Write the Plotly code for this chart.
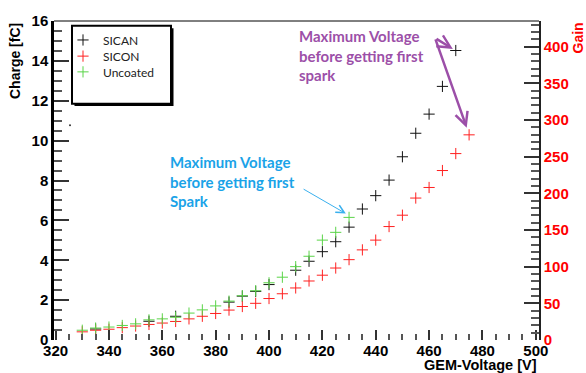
import plotly.graph_objects as go

# ---- data ----
sican_v = [335, 355, 365, 385, 390, 395, 400, 410, 415, 420, 425, 430, 435, 440,
           445, 450, 455, 460, 465, 470]
sican_q = [0.55, 0.94, 1.19, 1.90, 2.20, 2.44, 2.78, 3.50, 3.95, 4.43, 4.93, 5.66,
           6.57, 7.24, 8.02, 9.19, 10.37, 11.33, 12.72, 14.52]

sicon_v = [330, 335, 340, 345, 350, 355, 360, 365, 370, 375, 380, 385, 390, 395,
           400, 405, 410, 415, 420, 425, 430, 435, 440, 445, 450, 455, 460, 465,
           470, 475]
sicon_q = [0.41, 0.49, 0.54, 0.62, 0.70, 0.78, 0.85, 0.93, 1.06, 1.19, 1.33, 1.50,
           1.68, 1.84, 2.08, 2.32, 2.61, 2.96, 3.25, 3.61, 4.03, 4.52, 5.01, 5.69,
           6.26, 7.12, 7.65, 8.50, 9.35, 10.29]

unc_v = [330, 335, 340, 345, 350, 355, 360, 365, 370, 375, 380, 385, 390, 395,
         400, 405, 410, 415, 420, 425, 430]
unc_q = [0.49, 0.60, 0.65, 0.73, 0.81, 1.01, 1.06, 1.14, 1.35, 1.51, 1.71, 1.95,
         2.22, 2.47, 2.87, 3.15, 3.68, 4.20, 5.01, 5.40, 6.15]

stray_v = [325.4]
stray_q = [10.77]

x_ticks = [320, 340, 360, 380, 400, 420, 440, 460, 480, 500]
q_ticks = [0, 2, 4, 6, 8, 10, 12, 14, 16]
gain_ticks = [0, 50, 100, 150, 200, 250, 300, 350, 400]

# ---- figure ----
W, H = 586, 373
ML, MR, MT, MB = 54, 47, 12, 33
PW, PH = W - ML - MR, H - MT - MB


def px(x):
    return (x - ML) / PW


def py(y):
    return (H - MB - y) / PH


TICKFONT = dict(family="Liberation Sans, Arial", size=15, color="black", weight="bold")

fig = go.Figure()


def add_series(v, q, name, color, legend):
    fig.add_trace(go.Scatter(
        x=v, y=q, mode="markers", name=name, legend=legend,
        marker=dict(symbol="cross-thin", size=8, color=color,
                    line=dict(width=1, color=color)),
    ))


add_series(sican_v, sican_q, "SICAN", "#111111", "legend")
add_series(sicon_v, sicon_q, "SICON", "#ff2020", "legend2")
add_series(unc_v, unc_q, "Uncoated", "#5ad448", "legend3")

fig.add_trace(go.Scatter(x=stray_v, y=stray_q, mode="markers", showlegend=False,
                         marker=dict(symbol="circle", size=2, color="#333333")))
fig.add_trace(go.Scatter(x=[], y=[], yaxis="y2", showlegend=False, hoverinfo="skip"))

# legend box (ROOT style with shadow)
shapes = [
    dict(type="rect", xref="paper", yref="paper",
         x0=px(74.5), x1=px(173.5), y0=py(99.5), y1=py(19.5),
         fillcolor="black", line=dict(width=0), layer="above"),
    dict(type="rect", xref="paper", yref="paper",
         x0=px(72), x1=px(171), y0=py(97), y1=py(17),
         fillcolor="white", line=dict(width=2, color="black"), layer="above"),
    # top frame line
    dict(type="line", xref="paper", yref="paper", x0=0, x1=1, y0=1, y1=1,
         line=dict(width=1, color="black")),
]

TFONT = dict(family="Liberation Sans, Arial", size=14, color="black", weight="bold")

annotations = [
    # axis titles
    dict(text="Charge [fC]", xref="paper", yref="paper", x=px(15), y=py(12),
         xanchor="center", yanchor="top", textangle=-90, showarrow=False, font=TFONT),
    dict(text="Gain", xref="paper", yref="paper", x=px(577), y=py(12),
         xanchor="center", yanchor="top", textangle=-90, showarrow=False,
         font=dict(TFONT, color="#ff0000")),
    dict(text="GEM-Voltage [V]", xref="paper", yref="paper", x=px(539), y=py(366),
         xanchor="right", yanchor="middle", showarrow=False,
         font=dict(TFONT, size=14.5)),
    # blue note
    dict(text="Maximum Voltage<br>before getting first<br>Spark", xref="x", yref="y",
         x=362.2, y=9.49, xanchor="left", yanchor="top", align="left", showarrow=False,
         font=dict(family="Lato", size=15, color="#1aa3e8", weight="bold")),
    dict(text="", xref="x", yref="y", x=428.8, y=6.34, axref="x", ayref="y",
         ax=412.4, ay=7.61, showarrow=True, arrowhead=5, arrowsize=1.6,
         arrowwidth=1, arrowcolor="#3ab0ee", standoff=0, startstandoff=0),
    # purple note
    dict(text="Maximum Voltage<br>before getting first<br>spark", xref="x", yref="y",
         x=410.5, y=15.8, xanchor="left", yanchor="top", align="left", showarrow=False,
         font=dict(family="Lato", size=15, color="#9c4fa8", weight="bold")),
    dict(text="", xref="x", yref="y", x=468.9, y=14.6, axref="x", ayref="y",
         ax=462.2, ay=15.15, showarrow=True, arrowhead=5, arrowsize=1,
         arrowwidth=2.5, arrowcolor="#9c4fa8", standoff=0, startstandoff=0),
    dict(text="", xref="x", yref="y", x=474.1, y=10.65, axref="x", ayref="y",
         ax=462.2, ay=15.15, showarrow=True, arrowhead=5, arrowsize=1,
         arrowwidth=2.5, arrowcolor="#9c4fa8", standoff=0, startstandoff=0),
]

LEGFONT = dict(family="Lato", size=12, color="#222222")


def leg(ycenter):
    return dict(x=px(63), y=py(ycenter), xanchor="left", yanchor="middle",
                bgcolor="rgba(0,0,0,0)", borderwidth=0, font=LEGFONT, itemwidth=30)


fig.update_layout(
    width=W, height=H,
    margin=dict(l=ML, r=MR, t=MT, b=MB, pad=0),
    paper_bgcolor="white", plot_bgcolor="white",
    showlegend=True,
    legend=leg(31.5),
    legend2=leg(48.1),
    legend3=leg(64.3),
    xaxis=dict(range=[319.4, 501.2], tickmode="array", tickvals=x_ticks,
               ticktext=[str(t) for t in x_ticks],
               ticks="inside", ticklen=10, tickwidth=1.5, tickcolor="#333333",
               minor=dict(dtick=5, tick0=320, ticks="inside", ticklen=6,
                          tickwidth=1.5, tickcolor="#555555"),
               showline=False, showgrid=False, zeroline=False,
               tickfont=TICKFONT),
    yaxis=dict(range=[0, 16], tickmode="array", tickvals=q_ticks,
               ticktext=[str(t) for t in q_ticks],
               ticks="inside", ticklen=15, tickwidth=1.5, tickcolor="#333333",
               minor=dict(dtick=0.5, tick0=0, ticks="inside", ticklen=8,
                          tickwidth=1.5, tickcolor="#555555"),
               showline=True, linewidth=2.5, linecolor="black",
               showgrid=False, zeroline=False, tickfont=TICKFONT),
    yaxis2=dict(range=[0, 435], overlaying="y", side="right", tickmode="array",
                tickvals=gain_ticks, ticktext=[str(t) for t in gain_ticks],
                ticks="inside", ticklen=15, tickwidth=1.5, tickcolor="#333333",
                minor=dict(dtick=10, tick0=0, ticks="inside", ticklen=8,
                           tickwidth=1.5, tickcolor="#555555"),
                showline=True, linewidth=1.5, linecolor="#222222",
                showgrid=False, zeroline=False,
                tickfont=dict(family="Liberation Sans, Arial", size=15,
                              color="#ff0000", weight="bold")),
    shapes=shapes,
    annotations=annotations,
)

fig.write_html("out.html")
